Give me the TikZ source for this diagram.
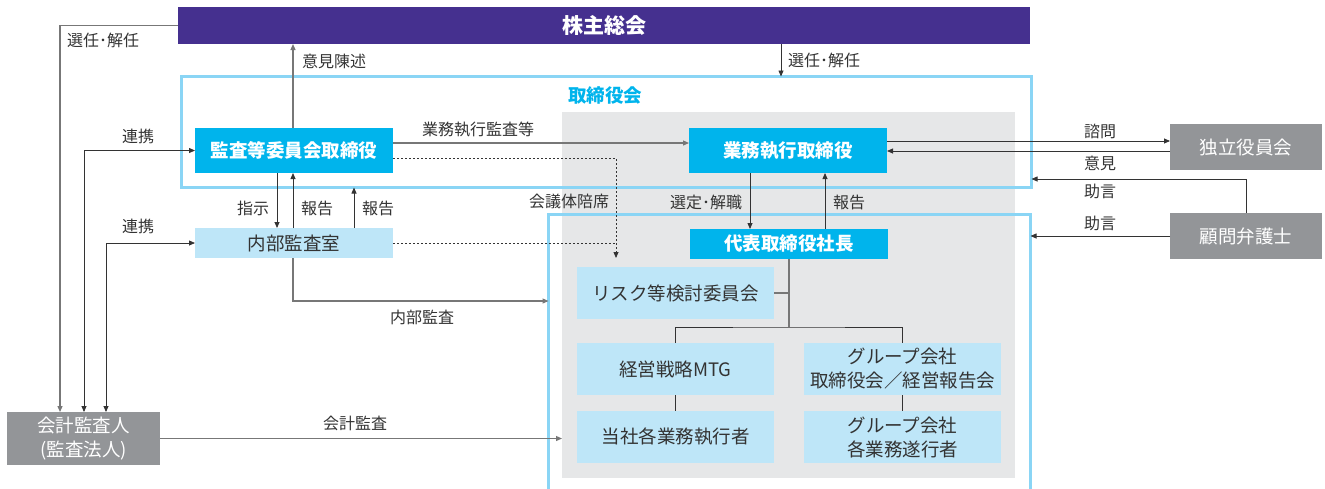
\documentclass[tikz,border=0pt]{standalone}
\usepackage{fontspec}
\setmainfont{Noto Sans CJK JP}
\usetikzlibrary{arrows.meta,calc}
\definecolor{purplec}{HTML}{45308F}
\definecolor{cyanc}{HTML}{00B4EC}
\definecolor{lightc}{HTML}{BEE6F8}
\definecolor{grayc}{HTML}{939598}
\definecolor{bgc}{HTML}{E6E7E8}
\definecolor{framec}{HTML}{8AD5F5}
\definecolor{txtc}{HTML}{333333}
\definecolor{darkl}{HTML}{333333}
\definecolor{grayl}{HTML}{777777}
\tikzset{
  base/.style={inner sep=0pt, outer sep=0pt, anchor=north west, align=center},
  cyanbox/.style={base, fill=cyanc, text=white, font=\bfseries\fontsize{18.5}{24}\selectfont},
  lightbox/.style={base, fill=lightc, text=txtc, font=\fontsize{18.5}{24}\selectfont},
  graybox/.style={base, fill=grayc, text=white, font=\fontsize{18.5}{24}\selectfont},
  framebox/.style={base, draw=framec, line width=2.8pt},
  lbl/.style={inner sep=0pt, text=txtc, font=\fontsize{16}{18}\selectfont},
  dl/.style={draw=darkl, line width=0.8pt},
  gl/.style={draw=grayl, line width=1.2pt},
  tip/.style={-{Triangle[length=6pt,width=5pt]}},
  tips/.style={{Triangle[length=6pt,width=5pt]}-{Triangle[length=6pt,width=5pt]}},
  dotl/.style={draw=darkl, line width=0.8pt, dash pattern=on 2pt off 2pt},
}
\begin{document}
\begin{tikzpicture}[x=1pt,y=-1pt]
\useasboundingbox (0,0) rectangle (1325,488);
% backgrounds
\node[base, fill=bgc, minimum width=453, minimum height=366] (bg) at (562,112) {};
\node[framebox, minimum width=850, minimum height=111] (fr1) at (181.5,76.5) {};
\node[framebox, minimum width=482, minimum height=300] (fr2) at (548.5,214.5) {};
% boxes
\node[base, fill=purplec, text=white, font=\bfseries\fontsize{21}{24}\selectfont, minimum width=852, minimum height=37] (kabu) at (178,7) {株主総会};
\node[inner sep=0pt, text=cyanc, font=\bfseries\fontsize{18.5}{24}\selectfont] (trlbl) at (605,96) {取締役会};
\node[cyanbox, minimum width=198, minimum height=45] (kansa) at (195,128) {監査等委員会取締役};
\node[cyanbox, minimum width=198, minimum height=45] (gyomu) at (689,128) {業務執行取締役};
\node[lightbox, minimum width=198, minimum height=30] (naibu) at (195,228) {内部監査室};
\node[cyanbox, minimum width=198, minimum height=30] (daihyo) at (690,229) {代表取締役社長};
\node[lightbox, minimum width=197, minimum height=52] (risk) at (577,267) {リスク等検討委員会};
\node[lightbox, minimum width=197, minimum height=52] (keiei) at (577,343) {経営戦略MTG};
\node[lightbox, minimum width=197, minimum height=52] (tosha) at (577,411) {当社各業務執行者};
\node[lightbox, minimum width=197, minimum height=52] (grp1) at (804,343) {グループ会社\\取締役会／経営報告会};
\node[lightbox, minimum width=197, minimum height=52] (grp2) at (804,411) {グループ会社\\各業務遂行者};
\node[graybox, minimum width=152, minimum height=46] (dokuritsu) at (1170,124) {独立役員会};
\node[graybox, minimum width=152, minimum height=46] (komon) at (1170,213) {顧問弁護士};
\node[graybox, minimum width=153, minimum height=53] (kaikei) at (7,412) {会計監査人\\(監査法人)};
% helper coordinates
\coordinate (xA) at (60,0);
\coordinate (xB) at (84,0);
\coordinate (xC) at (106,0);
\coordinate (x277) at (277,0);
\coordinate (x293) at (293,0);
\coordinate (x354) at (354,0);
\coordinate (x616) at (616,0);
\coordinate (x750) at (750,0);
\coordinate (x781) at (781,0);
\coordinate (x825) at (825,0);
\coordinate (x1246) at (1246,0);
\coordinate (y141) at (0,141);
\coordinate (y143) at (0,143);
\coordinate (y151) at (0,151);
\coordinate (y158) at (0,158);
\coordinate (y179) at (0,179);
\coordinate (y301) at (0,301);
\coordinate (tj) at (789,327);
% connectors
\draw[gl, tip] (kabu.west) -| (kaikei.north -| xA);
\draw[dl, tips] (kaikei.north -| xB) |- (kansa.west);
\draw[dl, tips] (kaikei.north -| xC) |- (naibu.west);
\draw[gl, tip] (kansa.north -| x293) -- (kabu.south -| x293);
\draw[dl, tip] (kabu.south -| x781) -- (fr1.north -| x781);
\draw[gl, tip] (kansa.east |- y143) -- (gyomu.west |- y143);
\draw[dotl, tip, shorten >=9pt] (kansa.east |- y158) -| (risk.north -| x616);
\draw[dotl] (naibu.east) -- (naibu.east -| x616);
\draw[dl, tip] (kansa.south -| x277) -- (naibu.north -| x277);
\draw[dl, tip] (naibu.north -| x293) -- (kansa.south -| x293);
\draw[dl, tip] (naibu.north -| x354) -- (fr1.south -| x354);
\draw[gl, tip] (naibu.south -| x293) |- (fr2.west |- y301);
\draw[dl, tip] (gyomu.south -| x750) -- (daihyo.north -| x750);
\draw[dl, tip] (daihyo.north -| x825) -- (gyomu.south -| x825);
\draw[gl] (daihyo.south -| tj) -- (tj);
\draw[gl] (risk.east) -- (risk.east -| tj);
\draw[dl] (keiei.north) |- (tj) -| (grp1.north);
\draw[dl] (keiei.south) -- (tosha.north);
\draw[dl] (grp1.south) -- (grp2.north);
\draw[dl, tip] (gyomu.east |- y141) -- (dokuritsu.west |- y141);
\draw[dl, tip] (dokuritsu.west |- y151) -- (gyomu.east |- y151);
\draw[dl, tip] (komon.north -| x1246) |- (fr1.east |- y179);
\draw[dl, tip] (komon.west) -- (fr2.east |- komon.west);
\draw[gl, tip] (kaikei.east) -- (bg.west |- kaikei.east);
% labels
\node[lbl] (l1) at (103,40) {選任･解任};
\node[lbl] (l2) at (138,136) {連携};
\node[lbl] (l3) at (138,226) {連携};
\node[lbl, anchor=west] (l4) at (302,61) {意見陳述};
\node[lbl, anchor=west] (l5) at (788,60) {選任･解任};
\node[lbl] (l6) at (478,130) {業務執行監査等};
\node[lbl] (l7) at (253,208) {指示};
\node[lbl] (l8) at (317,208) {報告};
\node[lbl] (l9) at (378,208) {報告};
\node[lbl] (l10) at (422,317) {内部監査};
\node[lbl] (l11) at (569,201) {会議体陪席};
\node[lbl] (l12) at (706,202) {選定･解職};
\node[lbl] (l13) at (849,202) {報告};
\node[lbl] (l14) at (1100,131) {諮問};
\node[lbl] (l15) at (1100,163) {意見};
\node[lbl] (l16) at (1100,191) {助言};
\node[lbl] (l17) at (1100,223) {助言};
\node[lbl] (l18) at (355,423) {会計監査};
\end{tikzpicture}
\end{document}
